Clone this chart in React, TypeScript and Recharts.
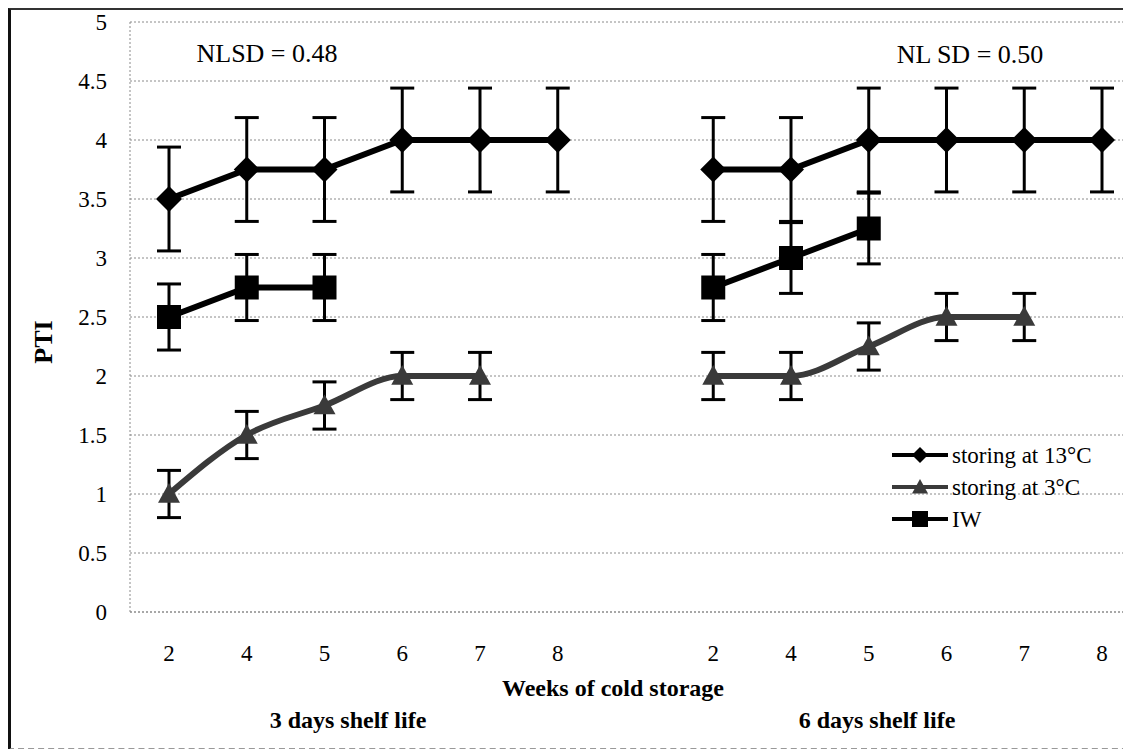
import React from "react";
import {
  ComposedChart,
  Line,
  XAxis,
  YAxis,
  CartesianGrid,
  ErrorBar,
} from "recharts";

// categories: two shelf-life groups split by one empty slot
const categories = ["2", "4", "5", "6", "7", "8", "", "2", "4", "5", "6", "7", "8"];
const pti13 = [3.5, 3.75, 3.75, 4, 4, 4, null, 3.75, 3.75, 4, 4, 4, 4];
const err13 = [0.44, 0.44, 0.44, 0.44, 0.44, 0.44, null, 0.44, 0.44, 0.44, 0.44, 0.44, 0.44];
const pti3 = [1, 1.5, 1.75, 2, 2, null, null, 2, 2, 2.25, 2.5, 2.5, null];
const err3 = [0.2, 0.2, 0.2, 0.2, 0.2, null, null, 0.2, 0.2, 0.2, 0.2, 0.2, null];
const ptiIW = [2.5, 2.75, 2.75, null, null, null, null, 2.75, 3, 3.25, null, null, null];
const errIW = [0.28, 0.28, 0.28, null, null, null, null, 0.28, 0.3, 0.3, null, null, null];
const yTicks = [0, 0.5, 1, 1.5, 2, 2.5, 3, 3.5, 4, 4.5, 5];

const data = categories.map((c, i) => ({
  key: `c${i}`,
  label: c,
  t13: pti13[i],
  e13: err13[i],
  t3: pti3[i],
  e3: err3[i],
  iw: ptiIW[i],
  eiw: errIW[i],
}));

const SERIF = "Liberation Serif, DejaVu Serif, Times New Roman, serif";
const GREY3 = "#3a3a3a";

function Diamond({ cx, cy, r = 13, fill = "#000" }: any) {
  return <polygon points={`${cx},${cy - r} ${cx + r},${cy} ${cx},${cy + r} ${cx - r},${cy}`} fill={fill} />;
}
function Triangle({ cx, cy, r = 11, fill = GREY3 }: any) {
  return <polygon points={`${cx},${cy - r} ${cx + r},${cy + r * 0.8} ${cx - r},${cy + r * 0.8}`} fill={fill} />;
}
function Square({ cx, cy, r = 12, fill = "#000" }: any) {
  return <rect x={cx - r} y={cy - r} width={r * 2} height={r * 2} fill={fill} />;
}

const makeDot = (Shape: any) => (props: any) => {
  const { cx, cy, index, value } = props;
  if (cx == null || cy == null || value == null) return <g key={`d${index}`} />;
  return <Shape key={`d${index}`} cx={cx} cy={cy} />;
};

const legendItems = [
  { name: "storing at 13°C", color: "#000", Shape: Diamond },
  { name: "storing at 3°C", color: GREY3, Shape: Triangle },
  { name: "IW", color: "#000", Shape: Square },
];

function LegendBox() {
  return (
    <div
      style={{
        position: "absolute",
        left: 885 - 8,
        top: 437 - 8,
        fontFamily: SERIF,
        fontSize: 23,
        color: "#000",
        lineHeight: 1,
      }}
    >
      {legendItems.map((it) => (
        <div key={it.name} style={{ display: "flex", alignItems: "center", height: 32 }}>
          <svg width={62} height={24}>
            <line x1={4} y1={12} x2={60} y2={12} stroke={it.color} strokeWidth={4} />
            <it.Shape cx={32} cy={12} r={8} fill={it.color} />
          </svg>
          <span style={{ marginLeft: 2 }}>{it.name}</span>
        </div>
      ))}
    </div>
  );
}

function Note({ x, y, children, style }: any) {
  return (
    <div
      style={{
        position: "absolute",
        left: x - 8,
        top: y - 8,
        transform: "translate(-50%, -50%)",
        fontFamily: SERIF,
        lineHeight: 1,
        whiteSpace: "nowrap",
        color: "#000",
        ...style,
      }}
    >
      {children}
    </div>
  );
}

export default function App() {
  return (
    <div
      style={{
        position: "relative",
        width: 1140,
        height: 742,
        borderLeft: "3px solid #111",
        borderTop: "2px solid #333",
        borderBottom: "2px dashed #999",
        boxSizing: "border-box",
      }}
    >
      <div style={{ position: "absolute", left: -3, top: -2 }}>
        <ComposedChart
          width={1140}
          height={742}
          data={data}
          margin={{ top: 14, right: 7, left: 0, bottom: 108 }}
        >
          <CartesianGrid vertical={false} stroke="#8a8a8a" strokeDasharray="2 2" />
          <XAxis
            dataKey="key"
            tickFormatter={(_v: any, i: number) => categories[i]}
            interval={0}
            padding={{ left: 39, right: 39 }}
            tickLine={false}
            tickSize={0}
            tickMargin={33}
            axisLine={{ stroke: "#8a8a8a", strokeDasharray: "2 2" }}
            tick={{ fill: "#000", fontSize: 23, fontFamily: SERIF }}
          />
          <YAxis
            width={122}
            domain={[0, 5]}
            ticks={yTicks}
            interval={0}
            tickLine={false}
            tickSize={0}
            tickMargin={23}
            axisLine={{ stroke: "#8a8a8a", strokeDasharray: "2 2" }}
            tick={{ fill: "#000", fontSize: 23, fontFamily: SERIF }}
          />
          <Line
            dataKey="t13"
            name="storing at 13°C"
            stroke="#000"
            strokeWidth={6}
            dot={makeDot(Diamond)}
            activeDot={false}
            isAnimationActive={false}
          >
            <ErrorBar dataKey="e13" width={12} strokeWidth={3} stroke="#000" direction="y" isAnimationActive={false} />
          </Line>
          <Line
            dataKey="t3"
            name="storing at 3°C"
            type="monotone"
            stroke={GREY3}
            strokeWidth={6}
            dot={makeDot(Triangle)}
            activeDot={false}
            isAnimationActive={false}
          >
            <ErrorBar dataKey="e3" width={12} strokeWidth={3} stroke="#000" direction="y" isAnimationActive={false} />
          </Line>
          <Line
            dataKey="iw"
            name="IW"
            stroke="#000"
            strokeWidth={6}
            dot={makeDot(Square)}
            activeDot={false}
            isAnimationActive={false}
          >
            <ErrorBar dataKey="eiw" width={12} strokeWidth={3} stroke="#000" direction="y" isAnimationActive={false} />
          </Line>
        </ComposedChart>
      </div>
      <LegendBox />
      <Note x={264} y={52} style={{ fontSize: 26 }}>NLSD = 0.48</Note>
      <Note x={967} y={53} style={{ fontSize: 26 }}>NL SD = 0.50</Note>
      <Note x={41} y={340} style={{ fontSize: 26, fontWeight: "bold", transform: "translate(-50%, -50%) rotate(-90deg)" }}>
        PTI
      </Note>
      <Note x={610} y={686} style={{ fontSize: 24, fontWeight: "bold" }}>Weeks of cold storage</Note>
      <Note x={345} y={718} style={{ fontSize: 24, fontWeight: "bold" }}>3 days shelf life</Note>
      <Note x={874} y={718} style={{ fontSize: 24, fontWeight: "bold" }}>6 days shelf life</Note>
    </div>
  );
}
